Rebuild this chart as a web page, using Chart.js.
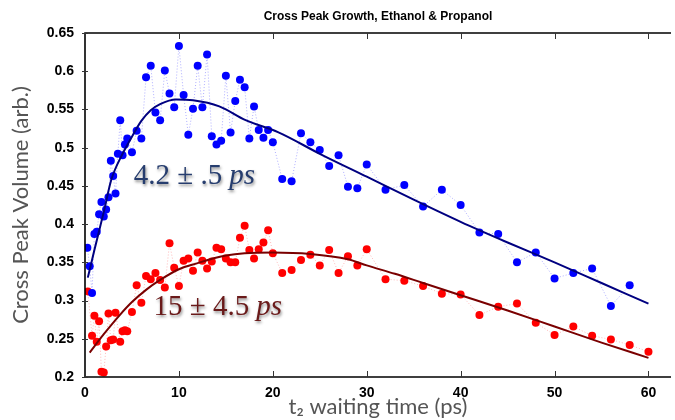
<!doctype html>
<html>
<head>
<meta charset="UTF-8" />
<script src="https://cdn.jsdelivr.net/npm/chart.js"></script>
<style type="text/css">
  body { margin: 0; background: #fff; }
  .chartBox { width: 675px; height: 420px; }
</style>
</head>
<body>
<div class="chartBox">
  <canvas id="peakChart" width="675" height="420"></canvas>
</div>
<script>
// waiting times (ps) and measured cross peak volumes
const ethanolT = [0.25, 0.5, 0.75, 1, 1.25, 1.5, 1.75, 2, 2.25, 2.5, 2.75, 3, 3.25, 3.5, 3.75, 4, 4.25, 4.5, 5, 5.5,
  6, 6.5, 7, 7.5, 8, 8.5, 9, 9.5, 10, 10.5, 11, 11.5, 12, 12.5, 13, 13.5, 14, 14.5, 15, 15.5,
  16, 16.5, 17, 17.5, 18, 18.5, 19, 19.5, 20, 21, 22, 23, 24, 25, 26, 27, 28, 29, 30,
  32, 34, 36, 38, 40, 42, 44, 46, 48, 50, 52, 54, 56, 58];
const ethanolV = [0.369, 0.345, 0.310, 0.387, 0.390, 0.413, 0.429, 0.410, 0.419, 0.435, 0.483, 0.463, 0.440, 0.492, 0.536, 0.490, 0.504, 0.512, 0.494, 0.522,
  0.512, 0.592, 0.607, 0.546, 0.536, 0.601, 0.571, 0.553, 0.633, 0.569, 0.517, 0.551, 0.607, 0.553, 0.622, 0.515, 0.504, 0.509, 0.594, 0.520,
  0.561, 0.589, 0.579, 0.512, 0.554, 0.523, 0.513, 0.523, 0.507, 0.459, 0.456, 0.519, 0.507, 0.497, 0.476, 0.490, 0.449, 0.447, 0.478,
  0.445, 0.451, 0.423, 0.445, 0.425, 0.389, 0.387, 0.350, 0.363, 0.329, 0.336, 0.342, 0.293, 0.320];

const propanolT = [0.3, 0.75, 1, 1.25, 1.5, 1.75, 2, 2.25, 2.5, 2.75, 3, 3.25, 3.75, 4, 4.25, 4.5, 5, 5.5,
  6, 6.5, 7, 7.5, 8, 8.5, 9, 9.5, 10, 10.5, 11, 11.5, 12, 12.5, 13, 13.5, 14, 14.5, 15, 15.5,
  16, 16.5, 17, 17.5, 18, 18.5, 19, 19.5, 20, 21, 22, 23, 24, 25, 26, 27, 28, 29, 30,
  32, 34, 36, 38, 40, 42, 44, 46, 48, 50, 52, 54, 56, 58, 60];
const propanolV = [0.312, 0.254, 0.280, 0.246, 0.273, 0.207, 0.206, 0.240, 0.283, 0.248, 0.249, 0.284, 0.246, 0.260, 0.261, 0.260, 0.285, 0.320,
  0.297, 0.332, 0.328, 0.336, 0.327, 0.317, 0.375, 0.343, 0.319, 0.352, 0.355, 0.339, 0.363, 0.352, 0.342, 0.351, 0.369, 0.367, 0.355, 0.350,
  0.350, 0.382, 0.398, 0.366, 0.355, 0.367, 0.376, 0.392, 0.362, 0.336, 0.340, 0.353, 0.360, 0.346, 0.366, 0.336, 0.358, 0.346, 0.367,
  0.328, 0.326, 0.319, 0.309, 0.308, 0.281, 0.292, 0.296, 0.271, 0.255, 0.266, 0.254, 0.249, 0.242, 0.233];

// fitted rise/decay curves
const ethanolFitT = [0.3, 1, 2, 2.8, 4, 4.8, 6, 7, 8, 9.7, 11.5, 14.3, 17.1, 20.6, 25, 30, 35, 40, 45, 50, 55, 60];
const ethanolFitV = [0.330, 0.366, 0.416, 0.458, 0.492, 0.510, 0.535, 0.549, 0.557, 0.563, 0.562, 0.554, 0.536, 0.520, 0.492, 0.462, 0.432, 0.403, 0.376, 0.350, 0.323, 0.296];
const propanolFitT = [0.5, 2, 3.7, 5, 6.5, 8, 10, 12, 13.6, 15, 17, 20, 24, 28, 30, 33, 36, 40, 45, 50, 55, 60];
const propanolFitV = [0.232, 0.256, 0.281, 0.298, 0.314, 0.327, 0.341, 0.349, 0.355, 0.359, 0.362, 0.363, 0.361, 0.354, 0.346, 0.335, 0.323, 0.307, 0.287, 0.266, 0.245, 0.225];

const xTicks = [0, 10, 20, 30, 40, 50, 60];
const yTicks = [0.2, 0.25, 0.3, 0.35, 0.4, 0.45, 0.5, 0.55, 0.6, 0.65];

const pts = (xs, ys) => xs.map((x, i) => ({ x: x, y: ys[i] }));

// box, inward ticks, title and fit labels
const decor = {
  id: 'decor',
  afterDatasetsDraw(chart) {
    const { ctx, chartArea: a, scales: { x, y } } = chart;
    ctx.save();
    ctx.strokeStyle = '#000';
    ctx.lineWidth = 1.6;
    ctx.beginPath();
    ctx.moveTo(a.right, a.top); ctx.lineTo(a.left, a.top);
    ctx.lineTo(a.left, a.bottom); ctx.lineTo(a.right, a.bottom);
    ctx.stroke();
    ctx.lineWidth = 1;
    ctx.strokeStyle = '#333';
    ctx.beginPath();
    xTicks.forEach(v => {
      const px = Math.round(x.getPixelForValue(v)) + 0.5;
      ctx.moveTo(px, a.bottom); ctx.lineTo(px, a.bottom - 6);
      ctx.moveTo(px, a.top); ctx.lineTo(px, a.top + 6);
    });
    yTicks.forEach(v => {
      const py = Math.round(y.getPixelForValue(v)) + 0.5;
      ctx.moveTo(a.left - 3, py); ctx.lineTo(a.left + 3, py);
    });
    ctx.stroke();

    ctx.fillStyle = '#000';
    ctx.font = 'bold 12px "Liberation Sans", Arial, sans-serif';
    ctx.textAlign = 'center';
    ctx.textBaseline = 'middle';
    ctx.fillText('Cross Peak Growth, Ethanol & Propanol', (a.left + a.right) / 2, 17);

    const label = (num, color, tx, ty) => {
      const px = x.getPixelForValue(tx), py = y.getPixelForValue(ty);
      ctx.textAlign = 'left';
      ctx.textBaseline = 'alphabetic';
      ctx.shadowColor = 'rgba(0,0,0,0.45)';
      ctx.shadowBlur = 3;
      ctx.shadowOffsetX = 1;
      ctx.shadowOffsetY = 2;
      ctx.fillStyle = color;
      ctx.font = '29px "Liberation Serif", "DejaVu Serif", serif';
      ctx.fillText(num, px, py);
      const w = ctx.measureText(num).width;
      ctx.font = 'italic 29px "Liberation Serif", "DejaVu Serif", serif';
      ctx.fillText('ps', px + w + 7, py);
      ctx.shadowColor = 'transparent';
    };
    label('4.2 \u00b1 .5', '#263d6e', 5.2, 0.453);
    label('15 \u00b1 4.5', '#6a1a1a', 7.3, 0.281);
    ctx.restore();
  }
};

const tickFont = { family: '"Liberation Sans", Arial, sans-serif', size: 14, weight: 'bold' };
const titleFont = { family: 'Lato, "Open Sans", sans-serif', size: 22 };

const config = {
  type: 'scatter',
  data: {
    datasets: [
      { data: pts(ethanolFitT, ethanolFitV), showLine: true, borderColor: '#000080', borderWidth: 2,
        pointRadius: 0, cubicInterpolationMode: 'monotone' },
      { data: pts(propanolFitT, propanolFitV), showLine: true, borderColor: '#7a0000', borderWidth: 2,
        pointRadius: 0, cubicInterpolationMode: 'monotone' },
      { data: pts(ethanolT, ethanolV), showLine: true, borderColor: 'rgba(110,110,255,0.55)', borderWidth: 1,
        borderDash: [1, 2], pointRadius: 4, pointBackgroundColor: '#0000ff', pointBorderColor: '#0000ff', pointBorderWidth: 0 },
      { data: pts(propanolT, propanolV), showLine: true, borderColor: 'rgba(255,120,120,0.5)', borderWidth: 1,
        borderDash: [1, 2], pointRadius: 4, pointBackgroundColor: '#ff0000', pointBorderColor: '#ff0000', pointBorderWidth: 0 }
    ]
  },
  options: {
    responsive: false,
    animation: false,
    layout: { padding: { top: 33, right: 0, left: 0, bottom: 0 } },
    plugins: { legend: { display: false }, tooltip: { enabled: false } },
    scales: {
      x: {
        type: 'linear', min: 0, max: 62.4,
        afterBuildTicks: s => { s.ticks = xTicks.map(v => ({ value: v })); },
        afterFit: s => { s.height = 43; },
        grid: { display: false }, border: { display: false },
        ticks: { padding: 0, color: '#000', font: tickFont },
        title: { display: true, text: 't\u2082 waiting time (ps)', color: '#555', padding: { top: -4, bottom: 0 },
          font: titleFont }
      },
      y: {
        type: 'linear', min: 0.2, max: 0.65,
        afterBuildTicks: s => { s.ticks = yTicks.map(v => ({ value: v })); },
        afterFit: s => { s.width = 85; },
        grid: { display: false }, border: { display: false },
        ticks: { padding: 3, color: '#000', callback: v => String(+v.toFixed(2)), font: tickFont },
        title: { display: true, text: 'Cross Peak Volume (arb.)', color: '#555', padding: { top: 8, bottom: 0 },
          font: titleFont }
      }
    }
  },
  plugins: [decor]
};

const peakChart = new Chart(document.getElementById('peakChart'), config);
</script>
</body>
</html>
